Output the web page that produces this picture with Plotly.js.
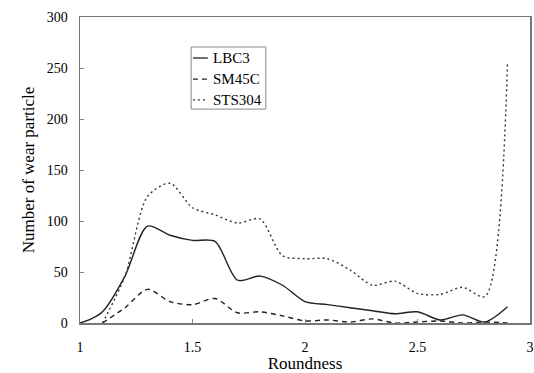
<!DOCTYPE html>
<html><head><meta charset="utf-8">
<script src="https://cdn.plot.ly/plotly-3.0.1.min.js"></script>
<style>html,body{margin:0;padding:0;background:#fff}#c{width:534px;height:373px}</style>
</head><body><div id="c"></div>
<script>
const xLBC3 = [1.0,1.05,1.1,1.2,1.3,1.4,1.5,1.6,1.7,1.8,1.9,2.0,2.1,2.2,2.3,2.4,2.5,2.6,2.7,2.8,2.9];
const yLBC3 = [0,4,11,46,95,86,81,80,42,46,37,21,18,15,12,9,11,3,8,1,16];
const xSM45C = [1.1,1.2,1.3,1.4,1.5,1.6,1.7,1.8,1.9,2.0,2.1,2.2,2.3,2.4,2.5,2.6,2.7,2.8,2.9];
const ySM45C = [0,15,33,21,18,24,10,11,7,2,3,1,4,0,1,2,0,1,0];
const xSTS304 = [1.1,1.2,1.3,1.4,1.5,1.6,1.7,1.8,1.9,2.0,2.1,2.2,2.3,2.4,2.5,2.6,2.7,2.8,2.9];
const ySTS304 = [0,46,124,137,113,106,98,102,66,63,63,52,37,41,29,28,35,26,255];
const seriesNames = ['LBC3','SM45C','STS304'];
const xTicks = [1,1.5,2,2.5,3];
const yTicks = [0,50,100,150,200,250,300];

const fam = '"Liberation Serif", "Times New Roman", serif';
const dashes = ['solid','5px,4px','2px,3px'];
const colors = ['#222','#222','#333'];
const xs = [xLBC3, xSM45C, xSTS304];
const ys = [yLBC3, ySM45C, ySTS304];
const traces = seriesNames.map((n,i)=>({x:xs[i], y:ys[i], name:n, mode:'lines', showlegend:false,
  line:{color:colors[i], width:1.4, dash:dashes[i], shape:'spline', smoothing:0.8}}));

// hand-built legend box (paper coords)
const lg = {x0:0.247, x1:0.413, y0:0.699, y1:0.902, rows:[0.866,0.797,0.729], lx0:0.251, lx1:0.284, tx:0.291};
const shapes = [{type:'rect', xref:'paper', yref:'paper', x0:lg.x0, x1:lg.x1, y0:lg.y0, y1:lg.y1,
  line:{color:'#888', width:1}, fillcolor:'#fff', layer:'above'}];
const annotations = [];
seriesNames.forEach((n,i)=>{
  shapes.push({type:'line', xref:'paper', yref:'paper', x0:lg.lx0, x1:lg.lx1, y0:lg.rows[i], y1:lg.rows[i],
    line:{color:colors[i], width:1.3, dash:dashes[i]}, layer:'above'});
  annotations.push({xref:'paper', yref:'paper', x:lg.tx, y:lg.rows[i], xanchor:'left', yanchor:'middle',
    text:n, showarrow:false, font:{family:fam, size:15, color:'#000'}});
});

const layout = {
  width:534, height:373,
  margin:{l:80, r:4, t:17, b:50},
  paper_bgcolor:'#fff', plot_bgcolor:'#fff',
  font:{family:fam, color:'#000', size:14},
  showlegend:false, shapes:shapes, annotations:annotations,
  xaxis:{range:[1,3], tickvals:xTicks, ticktext:xTicks.map(String), ticks:'inside', ticklen:4, tickcolor:'#888',
    showline:true, linecolor:'#777', linewidth:1.5, mirror:true, showgrid:false, zeroline:false, ticklabelstandoff:11,
    title:{text:'Roundness', font:{family:fam, size:17}, standoff:7}, tickfont:{family:fam, size:14}},
  yaxis:{range:[0,300], tickvals:yTicks, ticks:'inside', ticklen:4, tickcolor:'#888',
    showline:true, linecolor:'#777', linewidth:1.5, mirror:true, showgrid:false, zeroline:false, ticklabelstandoff:8,
    title:{text:'Number of wear particle', font:{family:fam, size:17}, standoff:8}, tickfont:{family:fam, size:14}}
};
Plotly.newPlot('c', traces, layout, {displayModeBar:false, staticPlot:true});
</script></body></html>
